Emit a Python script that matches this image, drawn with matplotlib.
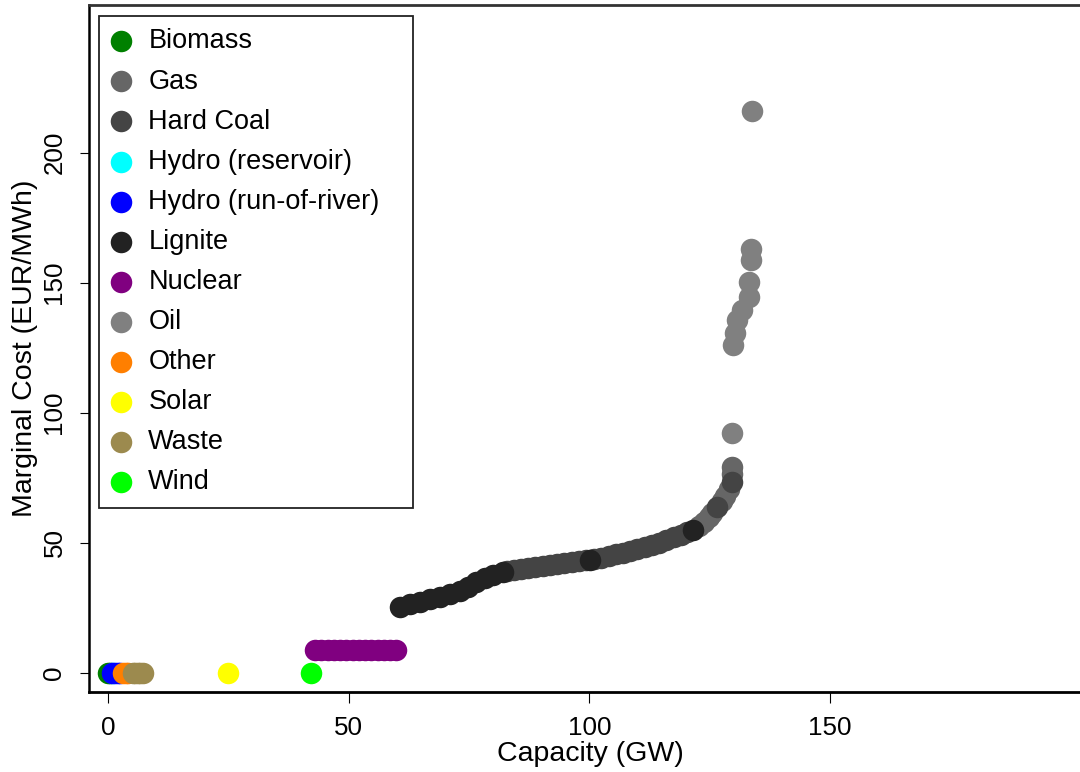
import matplotlib
matplotlib.use("Agg")
import matplotlib.pyplot as plt

# merit order points: cumulative capacity (GW) and marginal cost (EUR/MWh)
biomass_x = [0.0, 0.4]
biomass_y = [0.0, 0.0]
hydro_res_x = [1.0]
hydro_res_y = [0.0]
hydro_ror_x = [0.8, 1.4, 2.0, 2.5]
hydro_ror_y = [0.0, 0.0, 0.0, 0.0]
other_x = [3.1, 3.6, 4.2]
other_y = [0.0, 0.0, 0.0]
waste_x = [5.1, 5.6, 6.1, 6.6, 7.2]
waste_y = [0.0, 0.0, 0.0, 0.0, 0.0]
solar_x = [24.9]
solar_y = [0.0]
wind_x = [42.2]
wind_y = [0.0]
nuclear_x = [43.0, 44.3, 45.6, 46.9, 48.2, 49.5, 50.8, 52.1, 53.4, 54.7, 56.0, 57.3, 58.6, 59.9]
nuclear_y = [8.6, 8.6, 8.6, 8.7, 8.7, 8.7, 8.7, 8.7, 8.7, 8.7, 8.7, 8.8, 8.8, 8.8]
lignite_x = [60.7, 62.7, 64.8, 66.9, 69.0, 71.0, 73.1, 74.8, 76.4, 78.3, 80.0, 82.1, 100.1, 121.6]
lignite_y = [25.4, 26.4, 27.3, 28.3, 29.2, 30.3, 31.4, 33.0, 34.9, 36.4, 37.6, 38.8, 43.3, 54.9]
hardcoal_x = [82.8, 84.3, 85.8, 87.3, 88.8, 90.3, 91.8, 93.3, 94.8, 96.3, 97.8, 99.3,
              101.0, 102.5, 104.0, 105.5, 107.0, 108.5, 110.0, 111.5, 113.0, 114.5,
              116.0, 117.5, 119.0, 120.3, 126.5, 129.6]
hardcoal_y = [39.0, 39.5, 39.9, 40.2, 40.6, 41.0, 41.4, 41.8, 42.2, 42.6, 43.0, 43.3,
              43.8, 44.3, 44.8, 45.5, 46.1, 46.8, 47.5, 48.3, 49.1, 50.0,
              51.0, 52.0, 53.1, 54.2, 63.8, 73.5]
gas_x = [122.8, 123.8, 124.8, 125.5, 127.5, 128.3, 129.0, 129.6, 129.6]
gas_y = [56.5, 58.0, 60.0, 61.5, 66.0, 68.0, 70.5, 76.5, 79.2]
oil_x = [129.6, 129.9, 130.3, 130.6, 131.7, 133.1, 133.1, 133.6, 133.6, 133.8]
oil_y = [92.1, 126.0, 130.5, 135.7, 139.5, 144.6, 150.4, 158.7, 162.8, 216.2]

fuels = ["Biomass", "Gas", "Hard Coal", "Hydro (reservoir)", "Hydro (run-of-river)",
         "Lignite", "Nuclear", "Oil", "Other", "Solar", "Waste", "Wind"]
colors = ["#008000", "#666666", "#444444", "#00ffff", "#0000ff", "#222222",
          "#800080", "#808080", "#ff7f00", "#ffff00", "#9c8a4e", "#00ff00"]
xs = [biomass_x, gas_x, hardcoal_x, hydro_res_x, hydro_ror_x, lignite_x,
      nuclear_x, oil_x, other_x, solar_x, waste_x, wind_x]
ys = [biomass_y, gas_y, hardcoal_y, hydro_res_y, hydro_ror_y, lignite_y,
      nuclear_y, oil_y, other_y, solar_y, waste_y, wind_y]

plt.rcParams['font.family'] = ['Liberation Sans', 'DejaVu Sans']

W, H = 1080, 772
fig = plt.figure(figsize=(W / 100, H / 100), dpi=100)
left, right, top, bottom = 88.7, 1080, 5, 691.5
ax = fig.add_axes([left / W, 1 - bottom / H, (right - left) / W, (bottom - top) / H])

# alphabetical draw order, later fuels on top
for name, col, x, y in zip(fuels, colors, xs, ys):
    ax.scatter(x, y, s=240, c=col, marker='o', linewidths=0, label=name)

ax.set_xlim(-4.07, 202.0)
ax.set_ylim(-7.23, 256.8)
ax.set_xticks([0, 50, 100, 150])
ax.set_yticks([0, 50, 100, 150, 200])

ax.spines['right'].set_visible(False)
ax.spines['bottom'].set_linewidth(2.0)
ax.spines['top'].set_linewidth(2.0)
ax.spines['top'].set_color('#333333')
ax.spines['left'].set_linewidth(1.8)

ax.tick_params(axis='x', length=8, width=0.8, pad=9.5, labelsize=18.7)
ax.tick_params(axis='y', length=6.5, width=0.8, pad=9.5, labelsize=18.7)
for lab in ax.get_yticklabels():
    lab.set_rotation(90)
    lab.set_va('center')

ax.set_xlabel("Capacity (GW)", fontsize=20.5)
ax.set_ylabel("Marginal Cost (EUR/MWh)", fontsize=20.5)
ax.xaxis.set_label_coords((590 - left) / (right - left), -(741 - bottom) / (bottom - top))
ax.yaxis.set_label_coords(-(88.7 - 38) / (right - left), 0.5)

leg_l, leg_t, leg_r, leg_b = 99.3, 15.7, 413, 508
leg = ax.legend(loc='upper left', mode='expand',
                bbox_to_anchor=(leg_l / W, 1 - leg_b / H, (leg_r - leg_l) / W, (leg_b - leg_t) / H),
                bbox_transform=fig.transFigure, borderaxespad=0,
                fontsize=19.5, frameon=True, fancybox=False, framealpha=1,
                edgecolor='#222222', borderpad=0.47, labelspacing=0.52,
                handlelength=0.66, handletextpad=0.68, scatterpoints=1)
leg.get_frame().set_linewidth(1.3)

fig.savefig("out.png", dpi=100)
